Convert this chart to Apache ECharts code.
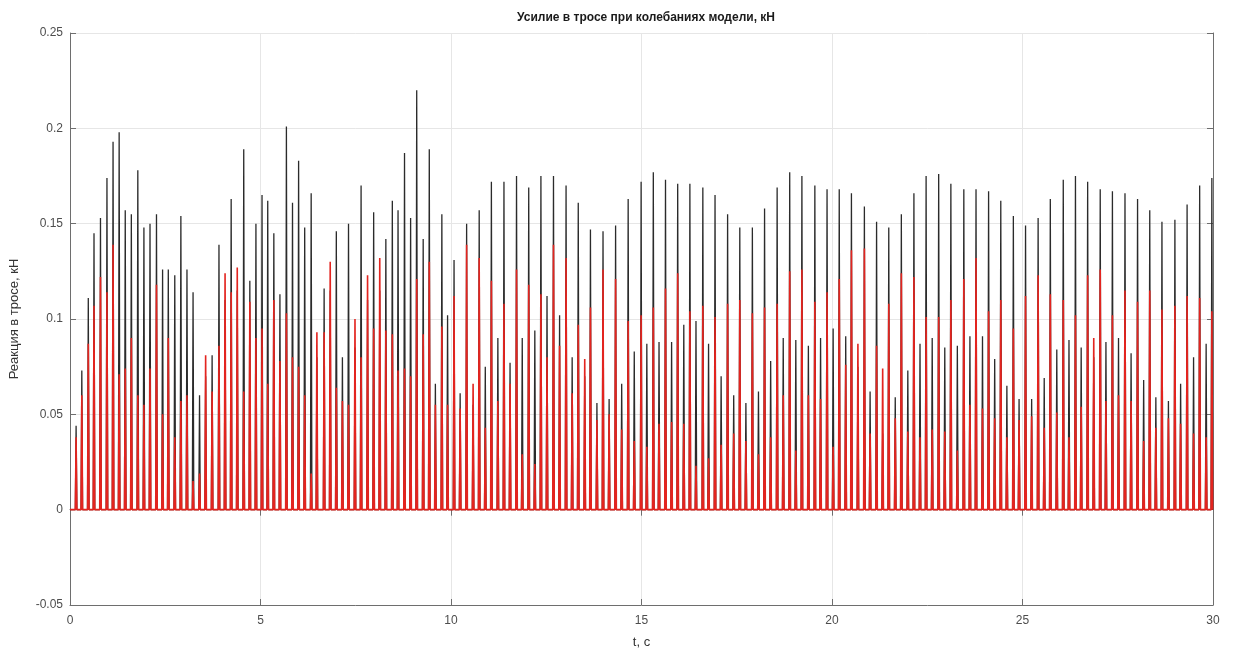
<!DOCTYPE html>
<html>
<head>
  <meta charset="utf-8">
  <title>Усилие в тросе</title>
  <script src="https://cdn.jsdelivr.net/npm/echarts@6/dist/echarts.min.js"></script>
  <style>
    html, body { margin: 0; padding: 0; background: #fff; }
    #main { width: 1238px; height: 655px; }
  </style>
</head>
<body>
  <div id="main"></div>
  <script>
    // moments of the force peaks, s
    var peakTime = [
      0.16, 0.31, 0.48, 0.63, 0.80, 0.97, 1.13, 1.29, 1.45, 1.61, 1.78, 1.94, 2.10, 2.27, 2.43, 2.58, 2.75, 2.91, 3.07, 3.23,
      3.40, 3.56, 3.73, 3.91, 4.07, 4.23, 4.39, 4.56, 4.72, 4.88, 5.04, 5.19, 5.35, 5.51, 5.68, 5.84, 6.00, 6.16, 6.33, 6.48,
      6.67, 6.83, 6.99, 7.15, 7.31, 7.48, 7.64, 7.81, 7.97, 8.13, 8.29, 8.46, 8.61, 8.78, 8.94, 9.10, 9.27, 9.43, 9.59, 9.76,
      9.91, 10.08, 10.24, 10.41, 10.58, 10.74, 10.90, 11.06, 11.23, 11.39, 11.55, 11.72, 11.87, 12.04, 12.20, 12.36, 12.52, 12.69, 12.85, 13.02,
      13.18, 13.34, 13.51, 13.66, 13.83, 13.99, 14.15, 14.32, 14.48, 14.65, 14.81, 14.99, 15.14, 15.31, 15.46, 15.63, 15.79, 15.95, 16.11, 16.27,
      16.43, 16.61, 16.76, 16.93, 17.09, 17.26, 17.42, 17.58, 17.74, 17.91, 18.07, 18.23, 18.39, 18.56, 18.72, 18.89, 19.05, 19.21, 19.38, 19.55,
      19.70, 19.87, 20.03, 20.19, 20.36, 20.51, 20.68, 20.85, 21.00, 21.17, 21.33, 21.49, 21.66, 21.82, 21.99, 22.15, 22.31, 22.47, 22.63, 22.80,
      22.96, 23.12, 23.29, 23.46, 23.62, 23.78, 23.95, 24.11, 24.27, 24.43, 24.59, 24.76, 24.91, 25.08, 25.24, 25.41, 25.57, 25.73, 25.90, 26.07,
      26.22, 26.39, 26.54, 26.71, 26.87, 27.04, 27.19, 27.36, 27.52, 27.69, 27.85, 28.02, 28.18, 28.34, 28.50, 28.66, 28.83, 29.00, 29.15, 29.32,
      29.49, 29.65, 29.82, 29.97
    ];
    // black curve peaks, kN
    var blackPeak = [
      0.044, 0.073, 0.111, 0.145, 0.153, 0.174, 0.193, 0.198, 0.157, 0.155, 0.178, 0.148, 0.150, 0.155, 0.126, 0.126, 0.123, 0.154, 0.126, 0.114,
      0.060, 0.070, 0.081, 0.139, 0.110, 0.163, 0.115, 0.189, 0.120, 0.150, 0.165, 0.162, 0.145, 0.113, 0.201, 0.161, 0.183, 0.148, 0.166, 0.080,
      0.116, 0.115, 0.146, 0.080, 0.150, 0.085, 0.170, 0.110, 0.156, 0.115, 0.142, 0.162, 0.157, 0.187, 0.153, 0.220, 0.142, 0.189, 0.066, 0.155,
      0.102, 0.131, 0.061, 0.150, 0.055, 0.157, 0.075, 0.172, 0.090, 0.172, 0.077, 0.175, 0.090, 0.169, 0.094, 0.175, 0.112, 0.175, 0.102, 0.170,
      0.080, 0.161, 0.070, 0.147, 0.056, 0.146, 0.058, 0.149, 0.066, 0.163, 0.083, 0.172, 0.087, 0.177, 0.088, 0.173, 0.088, 0.171, 0.097, 0.171,
      0.099, 0.169, 0.087, 0.165, 0.070, 0.155, 0.060, 0.148, 0.056, 0.148, 0.062, 0.158, 0.078, 0.169, 0.090, 0.177, 0.089, 0.175, 0.086, 0.170,
      0.090, 0.168, 0.095, 0.168, 0.091, 0.166, 0.075, 0.159, 0.062, 0.151, 0.040, 0.148, 0.059, 0.155, 0.073, 0.166, 0.087, 0.175, 0.090, 0.176,
      0.085, 0.171, 0.086, 0.168, 0.091, 0.168, 0.091, 0.167, 0.079, 0.162, 0.065, 0.154, 0.058, 0.149, 0.058, 0.153, 0.069, 0.163, 0.084, 0.173,
      0.089, 0.175, 0.085, 0.172, 0.080, 0.168, 0.088, 0.167, 0.090, 0.166, 0.082, 0.163, 0.068, 0.157, 0.059, 0.151, 0.057, 0.152, 0.066, 0.160,
      0.080, 0.170, 0.087, 0.174
    ];
    // red curve peaks, kN
    var redPeak = [
      0.038, 0.060, 0.087, 0.107, 0.122, 0.114, 0.139, 0.071, 0.074, 0.090, 0.060, 0.055, 0.074, 0.118, 0.050, 0.090, 0.038, 0.057, 0.060, 0.015,
      0.019, 0.081, 0.062, 0.086, 0.124, 0.114, 0.127, 0.062, 0.109, 0.090, 0.095, 0.066, 0.110, 0.078, 0.103, 0.080, 0.075, 0.060, 0.019, 0.093,
      0.093, 0.130, 0.064, 0.057, 0.055, 0.100, 0.080, 0.123, 0.095, 0.132, 0.094, 0.092, 0.073, 0.074, 0.070, 0.121, 0.092, 0.130, 0.055, 0.096,
      0.055, 0.112, 0.053, 0.139, 0.066, 0.132, 0.043, 0.120, 0.057, 0.108, 0.066, 0.126, 0.029, 0.118, 0.024, 0.113, 0.080, 0.139, 0.086, 0.132,
      0.061, 0.097, 0.079, 0.106, 0.047, 0.126, 0.050, 0.121, 0.042, 0.099, 0.036, 0.102, 0.033, 0.106, 0.045, 0.116, 0.046, 0.124, 0.045, 0.104,
      0.023, 0.107, 0.027, 0.101, 0.034, 0.108, 0.040, 0.110, 0.036, 0.103, 0.029, 0.106, 0.038, 0.108, 0.060, 0.125, 0.031, 0.126, 0.060, 0.109,
      0.058, 0.114, 0.033, 0.121, 0.076, 0.136, 0.087, 0.137, 0.040, 0.086, 0.074, 0.108, 0.048, 0.124, 0.041, 0.122, 0.038, 0.101, 0.042, 0.101,
      0.041, 0.110, 0.031, 0.121, 0.055, 0.132, 0.053, 0.104, 0.048, 0.110, 0.038, 0.095, 0.047, 0.112, 0.049, 0.123, 0.043, 0.113, 0.051, 0.110,
      0.038, 0.102, 0.054, 0.123, 0.090, 0.126, 0.057, 0.102, 0.060, 0.115, 0.057, 0.109, 0.036, 0.115, 0.043, 0.105, 0.048, 0.107, 0.045, 0.112,
      0.040, 0.111, 0.038, 0.104
    ];

    var tMax = 30;
    var halfWidth = 0.02; // half base of one spike, s

    // each peak becomes a narrow spike standing on the zero line
    function spikes(times, peaks) {
      var pts = [[0, 0]];
      times.forEach(function (t, i) {
        pts.push([t - halfWidth, 0], [t, peaks[i]], [t + halfWidth, 0]);
      });
      pts.push([tMax, 0]);
      return pts;
    }

    var axisColor = '#6e6e6e';
    var labelColor = '#4d4d4d';
    var font = 'Liberation Sans, Arial, sans-serif';

    var myChart = echarts.init(document.getElementById('main'));
    var option = {
      animation: false,
      backgroundColor: '#fff',
      title: {
        text: 'Усилие в тросе при колебаниях модели, кН',
        left: 641,
        top: 7,
        textAlign: 'center',
        textStyle: { fontFamily: font, fontSize: 12, fontWeight: 'bold', color: '#1a1a1a' }
      },
      grid: { left: 69, right: 25, top: 33, bottom: 50 },
      xAxis: [
        {
          type: 'value', min: 0, max: tMax, interval: 5,
          name: 't, c', nameLocation: 'middle', nameGap: 31,
          nameTextStyle: { fontFamily: font, fontSize: 13, color: '#333' },
          axisLine: { show: true, onZero: false, lineStyle: { color: axisColor, width: 1 } },
          axisTick: { inside: true, length: 6, lineStyle: { color: axisColor } },
          axisLabel: { fontFamily: font, fontSize: 12, color: labelColor, margin: 10 },
          splitLine: { show: true, lineStyle: { color: '#e6e6e6', width: 1 } }
        },
        {
          type: 'value', min: 0, max: tMax, interval: 5, position: 'top',
          axisLine: { show: true, lineStyle: { color: axisColor, width: 1 } },
          axisTick: { inside: true, length: 6, lineStyle: { color: axisColor } },
          axisLabel: { show: false },
          splitLine: { show: false }
        }
      ],
      yAxis: [
        {
          type: 'value', min: -0.05, max: 0.25, interval: 0.05,
          name: 'Реакция в тросе, кН', nameLocation: 'middle', nameGap: 49, nameRotate: 90,
          nameTextStyle: { fontFamily: font, fontSize: 13, color: '#333' },
          axisLine: { show: true, onZero: false, lineStyle: { color: axisColor, width: 1 } },
          axisTick: { inside: true, length: 6, lineStyle: { color: axisColor } },
          axisLabel: { fontFamily: font, fontSize: 12, color: labelColor, margin: 7 },
          splitLine: { show: true, lineStyle: { color: '#e6e6e6', width: 1 } }
        },
        {
          type: 'value', min: -0.05, max: 0.25, interval: 0.05, position: 'right',
          axisLine: { show: true, onZero: false, lineStyle: { color: axisColor, width: 1 } },
          axisTick: { inside: true, length: 6, lineStyle: { color: axisColor } },
          axisLabel: { show: false },
          splitLine: { show: false }
        }
      ],
      series: [
        {
          name: 'black',
          type: 'line',
          xAxisIndex: 0, yAxisIndex: 0,
          showSymbol: false,
          lineStyle: { color: '#2b2b2b', width: 1.3 },
          data: spikes(peakTime, blackPeak)
        },
        {
          name: 'red',
          type: 'line',
          xAxisIndex: 0, yAxisIndex: 0,
          showSymbol: false,
          lineStyle: { color: '#e3241f', width: 1.6 },
          data: spikes(peakTime, redPeak)
        }
      ]
    };
    myChart.setOption(option);
  </script>
</body>
</html>
